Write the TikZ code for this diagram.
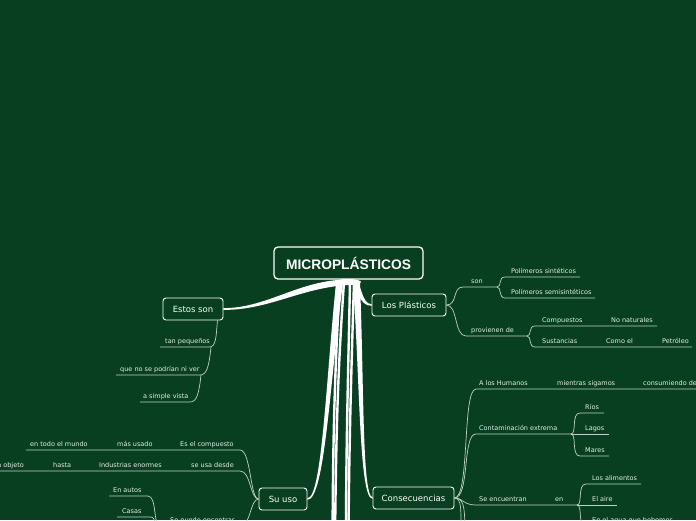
\documentclass[tikz,border=0pt]{standalone}
\usepackage{fontspec}
\setmainfont{DejaVu Sans}
\newfontfamily\titulofont{Liberation Sans}
\usetikzlibrary{calc}

\definecolor{fondo}{HTML}{073F20}
\definecolor{hilo}{HTML}{C3D0C7}
\definecolor{letra}{HTML}{E8EEEA}

\tikzset{
  titulo/.style={draw=white, line width=1.3pt, rounded corners=4pt, fill=fondo, text=white,
    font=\titulofont\bfseries\fontsize{13.8}{16}\selectfont, minimum width=149pt, minimum height=32pt},
  tema/.style={draw=white, line width=0.9pt, rounded corners=3pt, fill=fondo, text=white,
    font=\fontsize{8.5}{10}\selectfont, minimum height=22pt, inner xsep=0pt},
  dato/.style={anchor=south west, inner xsep=0pt, inner ysep=2pt, text height=5pt, text depth=1.5pt,
    text=letra, font=\fontsize{6.5}{8}\selectfont},
  rama/.style={draw=hilo, line width=0.7pt},
  tronco/.style={fill=white},
  hebra/.style={draw=white, line width=2.4pt},
}

\begin{document}
\begin{tikzpicture}[x=1pt, y=-1pt]
    \useasboundingbox (0,0) rectangle (696,520);
    \clip (0,0) rectangle (696,520);
    \fill[fondo] (0,0) rectangle (696,520);

    % temas
    \node[titulo] (micro) at (348.5,263) {MICROPLÁSTICOS};
    \node[tema, minimum width=60pt] (estos) at (193,309) {Estos son};
    \node[tema, minimum width=74pt] (plast) at (409,305) {Los Plásticos};
    \node[tema, minimum width=48pt] (suuso) at (283,499) {Su uso};
    \node[tema, minimum width=81pt] (conseq) at (413.5,498) {Consecuencias};

    % troncos gruesos
    \coordinate (raiz) at (348,282);
    \fill[tronco] (raiz) ellipse (13 and 3);
    \fill[tronco] (350,279.5) .. controls (300,279) and (268,308.2) .. ($(estos.east)+(0,-0.9)$)
        -- ($(estos.east)+(0,0.9)$) .. controls (270,310) and (302,287) .. (350,285) -- cycle;
    \fill[tronco] (354,280) .. controls (362,281) and (361,304.2) .. ($(plast.west)+(0,-0.8)$)
        -- ($(plast.west)+(0,0.8)$) .. controls (358,306) and (358,286) .. (350,283) -- cycle;
    \fill[tronco] (336,283) .. controls (326,380) and (322,498.2) .. ($(suuso.east)+(0,-0.8)$)
        -- ($(suuso.east)+(0,0.8)$) .. controls (325,499.8) and (330,380) .. (343,283) -- cycle;
    \fill[tronco] (353,283) .. controls (360,380) and (359,498.8) .. ($(conseq.west)+(0,0.8)$)
        -- ($(conseq.west)+(0,-0.8)$) .. controls (362,497.2) and (364,380) .. (360,283) -- cycle;
    \draw[hebra] (340,282) .. controls (334,380) and (333,450) .. (332.5,540);
    \draw[hebra] (344,282) .. controls (337,380) and (336,450) .. (335,540);
    \draw[hebra] (350,282) .. controls (348,380) and (346,450) .. (346,540);
    \draw[hebra] (354,282) .. controls (351,380) and (349,450) .. (348.5,540);

    % Estos son
    \coordinate (peq-e) at (211,347);
    \coordinate (ver-e) at (201,375);
    \draw[rama] ($(estos.south east)+(-6,0)$) .. controls (216,338) and (216,347) .. (209,347) -- (160,347);
    \draw[rama] (peq-e) .. controls (209,366) and (207,375) .. (200,375) -- (116,375);
    \draw[rama] (ver-e) .. controls (199,393) and (197,402) .. (190,402) -- (140,402);
    \node[dato] (peq) at (165,347) {tan pequeños};
    \node[dato] (ver) at (120,375) {que no se podrían ni ver};
    \node[dato] (vista) at (143,402) {a simple vista};

    % Los Plásticos
    \coordinate (son-e) at (497,287);
    \coordinate (prov-e) at (527,336);
    \draw[rama] (plast.east) .. controls (458,305) and (452,287) .. (463,287) -- (son-e);
    \draw[rama] (plast.east) .. controls (458,305) and (454,336) .. (466,336) -- (prov-e);
    \draw[rama] (son-e) .. controls (502,287) and (498,277) .. (505,277) -- (580,277);
    \draw[rama] (son-e) .. controls (502,287) and (498,298) .. (505,298) -- (595,298);
    \draw[rama] (prov-e) .. controls (532,336) and (528,326) .. (535,326) -- (657,326);
    \draw[rama] (prov-e) .. controls (532,336) and (528,347) .. (535,347) -- (692,347);
    \node[dato] (son) at (471,287) {son};
    \node[dato] (psint) at (511,277) {Polímeros sintéticos};
    \node[dato] (psemi) at (511,298) {Polímeros semisintéticos};
    \node[dato] (prov) at (471,336) {provienen de};
    \node[dato] (comp) at (542,326) {Compuestos};
    \node[dato] (nonat) at (611,326) {No naturales};
    \node[dato] (sust) at (542,347) {Sustancias};
    \node[dato] (como) at (606,347) {Como el};
    \node[dato] (petro) at (662,347) {Petróleo};

    % Consecuencias
    \coordinate (cont-e) at (571,434);
    \coordinate (enc-e) at (577,505);
    \draw[rama] (conseq.east) .. controls (470,498) and (462,389) .. (476,389) -- (700,389);
    \draw[rama] (conseq.east) .. controls (470,498) and (462,434) .. (476,434) -- (cont-e);
    \draw[rama] (cont-e) .. controls (577,434) and (571,413) .. (580,413) -- (604,413);
    \draw[rama] (cont-e) -- (609,434);
    \draw[rama] (cont-e) .. controls (577,434) and (571,456) .. (580,456) -- (609,456);
    \draw[rama] (conseq.east) .. controls (463,498) and (463,505) .. (476,505) -- (enc-e);
    \draw[rama] (enc-e) .. controls (583,505) and (577,484) .. (586,484) -- (641,484);
    \draw[rama] (enc-e) -- (617,505);
    \draw[rama] (enc-e) .. controls (583,505) and (577,526) .. (586,526) -- (680,526);
    \draw[rama] (conseq.east) .. controls (462,498) and (461,510) .. (461,540);
    \draw[rama] (conseq.east) .. controls (466,498) and (465,510) .. (465,560);
    \node[dato] (hum) at (479,389) {A los Humanos};
    \node[dato] (mien) at (557,389) {mientras sigamos};
    \node[dato] (cons) at (643,389) {consumiendo de};
    \node[dato] (cont) at (479,434) {Contaminación extrema};
    \node[dato] (rios) at (585,413) {Ríos};
    \node[dato] (lagos) at (585,434) {Lagos};
    \node[dato] (mares) at (585,456) {Mares};
    \node[dato] (enc) at (479,505) {Se encuentran};
    \node[dato] (en) at (555,505) {en};
    \node[dato] (alim) at (592,484) {Los alimentos};
    \node[dato] (aire) at (592,505) {El aire};
    \node[dato] (agua) at (592,526) {En el agua que bebemos};

    % Su uso
    \coordinate (puede-w) at (160,526);
    \draw[rama] (suuso.west) .. controls (250,499) and (251,450) .. (240,450) -- (26,450);
    \draw[rama] (suuso.west) .. controls (250,499) and (251,471) .. (240,471) -- (-5,471);
    \draw[rama] (suuso.west) .. controls (250,499) and (251,526) .. (240,526) -- (puede-w);
    \draw[rama] (puede-w) .. controls (153,526) and (157,496) .. (148,496) -- (109,496);
    \draw[rama] (puede-w) .. controls (153,526) and (157,517) .. (150,517) -- (117,517);
    \node[dato] (esel) at (180,450) {Es el compuesto};
    \node[dato] (mas) at (117,450) {más usado};
    \node[dato] (mundo) at (30,450) {en todo el mundo};
    \node[dato] (desde) at (191,471) {se usa desde};
    \node[dato] (indus) at (99,471) {Industrias enormes};
    \node[dato] (hasta) at (53,471) {hasta};
    \node[dato, anchor=south east] (objeto) at (24,471) {un objeto};
    \node[dato] (puede) at (170,526) {Se puede encontrar};
    \node[dato] (autos) at (113,496) {En autos};
    \node[dato] (casas) at (122,517) {Casas};
\end{tikzpicture}
\end{document}
